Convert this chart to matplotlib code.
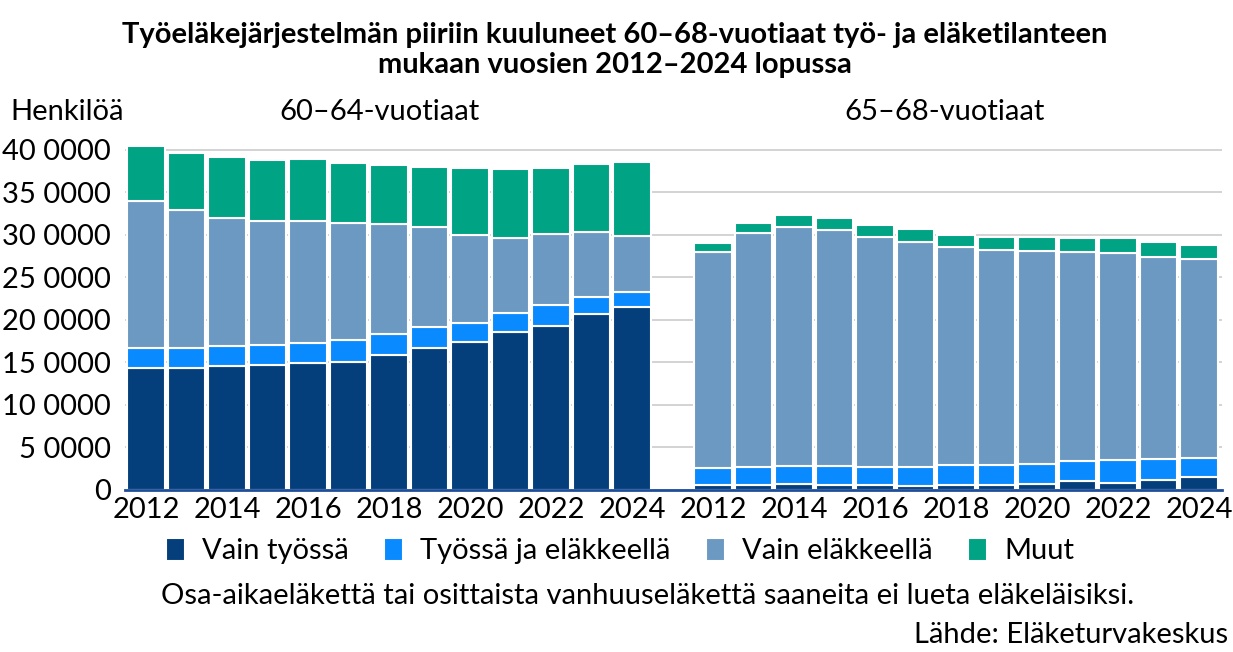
import matplotlib.pyplot as plt
import numpy as np

plt.rcParams['font.family'] = ['Lato', 'DejaVu Sans']

years = list(range(2012, 2025))

# 60-64-vuotiaat
vain_tyossa_60 = [14400, 14350, 14600, 14700, 14900, 15050, 15900, 16700, 17400, 18550, 19300, 20700, 21500]
tyossa_elak_60 = [2300, 2350, 2300, 2400, 2400, 2550, 2450, 2500, 2300, 2250, 2500, 2050, 1800]
vain_elak_60 = [17300, 16200, 15100, 14500, 14400, 13800, 12950, 11700, 10300, 8900, 8350, 7550, 6600]
muut_60 = [6500, 6700, 7200, 7200, 7200, 7100, 6900, 7100, 7900, 8100, 7750, 8000, 8650]

# 65-68-vuotiaat
vain_tyossa_65 = [550, 600, 650, 600, 600, 500, 600, 600, 700, 1000, 800, 1150, 1500]
tyossa_elak_65 = [2050, 2150, 2150, 2200, 2150, 2250, 2300, 2350, 2350, 2450, 2700, 2550, 2250]
vain_elak_65 = [25400, 27450, 28100, 27800, 27000, 26450, 25700, 25250, 25100, 24550, 24400, 23700, 23450]
muut_65 = [1100, 1200, 1400, 1400, 1450, 1500, 1450, 1600, 1650, 1700, 1800, 1800, 1600]

series_names = ["Vain työssä", "Työssä ja eläkkeellä", "Vain eläkkeellä", "Muut"]
colors = ["#053F7B", "#0A8AFF", "#6C99C2", "#00A384"]

fs = 21

fig = plt.figure(figsize=(12.33, 6.52), dpi=100)
ax = fig.add_axes([0.1014, 0.2485, 0.8897, 0.5345])

x_left = np.arange(13)
x_right = np.arange(14, 27)

groups = [
    (x_left, [vain_tyossa_60, tyossa_elak_60, vain_elak_60, muut_60]),
    (x_right, [vain_tyossa_65, tyossa_elak_65, vain_elak_65, muut_65]),
]
for xs, data in groups:
    bottom = np.zeros(13)
    for i, vals in enumerate(data):
        ax.bar(xs, vals, bottom=bottom, width=0.92, color=colors[i],
               edgecolor="white", linewidth=1.5, zorder=3,
               label=series_names[i] if xs[0] == 0 else None)
        bottom += np.array(vals)

ax.set_xlim(-0.52, 26.57)
ax.set_ylim(0, 41000)
ax.set_yticks(range(0, 40001, 5000))
ax.set_yticklabels(["0"] + ["%d 0000" % (v // 1000) for v in range(5000, 40001, 5000)])
ticks = list(x_left[::2]) + list(x_right[::2])
ax.set_xticks(ticks)
ax.set_xticklabels([str(y) for y in years[::2]] * 2)
ax.tick_params(axis="both", length=0, labelsize=fs)
ax.tick_params(axis="x", pad=5)
ax.tick_params(axis="y", pad=10)

ax.yaxis.grid(True, color="#cccccc", linewidth=1.2, zorder=0)
for s in ["top", "right", "left"]:
    ax.spines[s].set_visible(False)
ax.spines["bottom"].set_color("#1F4E99")
ax.spines["bottom"].set_linewidth(2)
ax.spines["bottom"].set_zorder(4)

fig.text(615 / 1233, 1 - 50 / 652, "Työeläkejärjestelmän piiriin kuuluneet 60–68-vuotiaat työ- ja eläketilanteen\nmukaan vuosien 2012–2024 lopussa",
         ha="center", va="center", fontsize=fs, fontweight="bold", linespacing=1.15)
fig.text(10 / 1233, 1 - 112 / 652, "Henkilöä", ha="left", va="center", fontsize=fs)
fig.text(380 / 1233, 1 - 112 / 652, "60–64-vuotiaat", ha="center", va="center", fontsize=fs)
fig.text(945 / 1233, 1 - 112 / 652, "65–68-vuotiaat", ha="center", va="center", fontsize=fs)

fig.legend(loc="center", bbox_to_anchor=(620 / 1233, 1 - 551 / 652), ncol=4, frameon=False,
           fontsize=21, handlelength=0.65, handleheight=0.85, handletextpad=0.6, columnspacing=1.2)

fig.text(648 / 1233, 1 - 596 / 652, "Osa-aikaeläkettä tai osittaista vanhuuseläkettä saaneita ei lueta eläkeläisiksi.",
         ha="center", va="center", fontsize=fs)
fig.text(1228 / 1233, 1 - 635 / 652, "Lähde: Eläketurvakeskus", ha="right", va="center", fontsize=fs)

fig.savefig("out.png", dpi=100)
